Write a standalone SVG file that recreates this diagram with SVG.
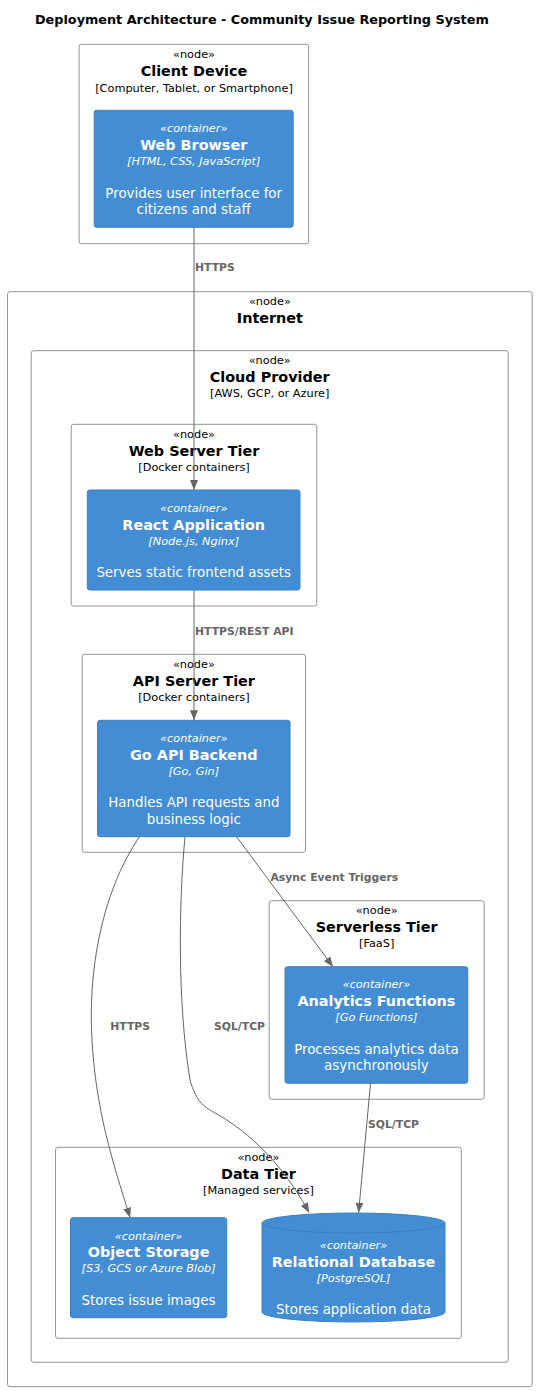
<svg xmlns="http://www.w3.org/2000/svg" width="538" height="1391" viewBox="0 0 538 1391">
<style>
text{font-family:"DejaVu Sans",Verdana,sans-serif;text-anchor:middle}
.title{font-size:12.8px;font-weight:bold;fill:#000;text-anchor:start}
.nd{fill:#fff;stroke:#939393;stroke-width:1}
.st{font-size:11.3px;fill:#000}
.nn{font-size:14.4px;font-weight:bold;fill:#000}
.nt{font-size:11.3px;fill:#000}
.ct{fill:#438DD5;stroke:#3C7FC0;stroke-width:1}
.cs{font-size:11.3px;font-style:italic;fill:#fff}
.cn{font-size:14.4px;font-weight:bold;fill:#fff}
.cd{font-size:13.4px;fill:#fff}
.ln{fill:none;stroke:#666;stroke-width:1}
.lb{font-size:10.8px;font-weight:bold;fill:#666;text-anchor:start}
</style>
<defs>
<marker id="ah" markerWidth="10" markerHeight="8" refX="10" refY="4" orient="auto" markerUnits="userSpaceOnUse">
<path d="M0,0 L10,4 L0,8 Z" fill="#666"/>
</marker>
</defs>
<rect width="538" height="1391" fill="#fff"/>
<text class="title" x="35" y="24">Deployment Architecture - Community Issue Reporting System</text>

<g id="client-device">
<rect class="nd" x="79.1" y="44.3" width="229.5" height="199.4" rx="2.5"/>
<text class="st" x="194" y="58">«node»</text>
<text class="nn" x="194" y="76">Client Device</text>
<text class="nt" x="194" y="91.5">[Computer, Tablet, or Smartphone]</text>
</g>
<g id="web-browser">
<rect class="ct" x="94.2" y="110.3" width="199" height="117" rx="2.5"/>
<text class="cs" x="193.7" y="132">«container»</text>
<text class="cn" x="193.7" y="149.5">Web Browser</text>
<text class="cs" x="193.7" y="165">[HTML, CSS, JavaScript]</text>
<text class="cd" x="193.7" y="198">Provides user interface for</text>
<text class="cd" x="193.7" y="214">citizens and staff</text>
</g>

<g id="internet">
<rect class="nd" x="7.5" y="291.7" width="524.7" height="1095" rx="2.5"/>
<text class="st" x="269.9" y="305">«node»</text>
<text class="nn" x="269.9" y="322.5">Internet</text>
</g>

<g id="cloud-provider">
<rect class="nd" x="31.2" y="350.7" width="477" height="1011.6" rx="2.5"/>
<text class="st" x="269.7" y="363.5">«node»</text>
<text class="nn" x="269.7" y="381.5">Cloud Provider</text>
<text class="nt" x="269.7" y="396.5">[AWS, GCP, or Azure]</text>
</g>

<g id="web-server-tier">
<rect class="nd" x="71.2" y="424.3" width="245.6" height="181.7" rx="2.5"/>
<text class="st" x="194" y="438">«node»</text>
<text class="nn" x="194" y="455.5">Web Server Tier</text>
<text class="nt" x="194" y="470.5">[Docker containers]</text>
</g>
<g id="react-application">
<rect class="ct" x="87.3" y="490" width="212.7" height="100" rx="2.5"/>
<text class="cs" x="193.7" y="512">«container»</text>
<text class="cn" x="193.7" y="529.5">React Application</text>
<text class="cs" x="193.7" y="545">[Node.js, Nginx]</text>
<text class="cd" x="193.7" y="576.5">Serves static frontend assets</text>
</g>

<g id="api-server-tier">
<rect class="nd" x="82.2" y="654.3" width="223.3" height="198" rx="2.5"/>
<text class="st" x="193.9" y="668">«node»</text>
<text class="nn" x="193.9" y="686">API Server Tier</text>
<text class="nt" x="193.9" y="701">[Docker containers]</text>
</g>
<g id="go-api-backend">
<rect class="ct" x="97.6" y="720.3" width="192.4" height="116.4" rx="2.5"/>
<text class="cs" x="193.8" y="742">«container»</text>
<text class="cn" x="193.8" y="759.5">Go API Backend</text>
<text class="cs" x="193.8" y="775">[Go, Gin]</text>
<text class="cd" x="193.8" y="806.5">Handles API requests and</text>
<text class="cd" x="193.8" y="824">business logic</text>
</g>

<g id="serverless-tier">
<rect class="nd" x="269.2" y="900.7" width="215" height="198.6" rx="2.5"/>
<text class="st" x="376.7" y="914">«node»</text>
<text class="nn" x="376.7" y="932">Serverless Tier</text>
<text class="nt" x="376.7" y="947">[FaaS]</text>
</g>
<g id="analytics-functions">
<rect class="ct" x="285" y="966.7" width="182.8" height="116.6" rx="2.5"/>
<text class="cs" x="376.4" y="988">«container»</text>
<text class="cn" x="376.4" y="1005.5">Analytics Functions</text>
<text class="cs" x="376.4" y="1021">[Go Functions]</text>
<text class="cd" x="376.4" y="1054">Processes analytics data</text>
<text class="cd" x="376.4" y="1070">asynchronously</text>
</g>

<g id="data-tier">
<rect class="nd" x="55.5" y="1147.3" width="405.8" height="191" rx="2.5"/>
<text class="st" x="258.4" y="1161">«node»</text>
<text class="nn" x="258.4" y="1179">Data Tier</text>
<text class="nt" x="258.4" y="1194">[Managed services]</text>
</g>
<g id="object-storage">
<rect class="ct" x="70.5" y="1217.7" width="156.2" height="100" rx="2.5"/>
<text class="cs" x="148.6" y="1239.5">«container»</text>
<text class="cn" x="148.6" y="1257">Object Storage</text>
<text class="cs" x="148.6" y="1272">[S3, GCS or Azure Blob]</text>
<text class="cd" x="148.6" y="1305">Stores issue images</text>
</g>
<g id="relational-database">
<path class="ct" d="M262,1223 A91.5,10 0 0 1 445,1223 L445,1312 A91.5,10 0 0 1 262,1312 Z"/>
<path d="M262,1223 A91.5,10 0 0 0 445,1223" fill="none" stroke="#3C7FC0" stroke-width="1"/>
<text class="cs" x="353.5" y="1249">«container»</text>
<text class="cn" x="353.5" y="1267">Relational Database</text>
<text class="cs" x="353.5" y="1282">[PostgreSQL]</text>
<text class="cd" x="353.5" y="1314">Stores application data</text>
</g>

<g id="connectors">
<path class="ln" d="M194,227.3 L194,490" marker-end="url(#ah)"/>
<text class="lb" x="195" y="271">HTTPS</text>
<path class="ln" d="M194,590 L194,720.3" marker-end="url(#ah)"/>
<text class="lb" x="195" y="634.5">HTTPS/REST API</text>
<path class="ln" d="M236.6,836.7 L333,966.7" marker-end="url(#ah)"/>
<text class="lb" x="270.5" y="881">Async Event Triggers</text>
<path class="ln" d="M139.4,836.7 C100,895 88,975 92,1040 C96,1110 112,1160 130.1,1217.7" marker-end="url(#ah)"/>
<text class="lb" x="110.3" y="1030">HTTPS</text>
<path class="ln" d="M185,836.7 C179,900 177,1000 190,1080 C196,1102 205,1108 217,1114 C262,1140 290,1178 309.2,1212.7" marker-end="url(#ah)"/>
<text class="lb" x="214" y="1030">SQL/TCP</text>
<path class="ln" d="M370.5,1083.3 L358.6,1212.7" marker-end="url(#ah)"/>
<text class="lb" x="368" y="1127.5">SQL/TCP</text>
</g>
</svg>
